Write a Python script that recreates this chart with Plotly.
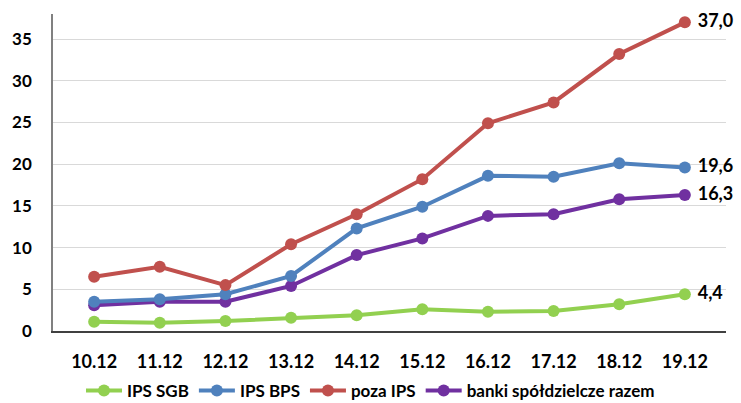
import plotly.graph_objects as go

categories = ["10.12", "11.12", "12.12", "13.12", "14.12", "15.12", "16.12", "17.12", "18.12", "19.12"]
ips_sgb = [1.1, 1.0, 1.2, 1.6, 1.9, 2.6, 2.3, 2.4, 3.2, 4.4]
ips_bps = [3.5, 3.8, 4.4, 6.6, 12.3, 14.9, 18.6, 18.5, 20.1, 19.6]
poza_ips = [6.5, 7.7, 5.5, 10.4, 14.0, 18.2, 24.9, 27.4, 33.2, 37.0]
banki_razem = [3.1, 3.5, 3.5, 5.4, 9.1, 11.1, 13.8, 14.0, 15.8, 16.3]
y_ticks = [0, 5, 10, 15, 20, 25, 30, 35]

series = [
    ("IPS SGB", ips_sgb, "#92D050"),
    ("IPS BPS", ips_bps, "#4F81BD"),
    ("poza IPS", poza_ips, "#C0504D"),
    ("banki spółdzielcze razem", banki_razem, "#7030A0"),
]

FONT = "Lato, 'Open Sans', sans-serif"

fig = go.Figure()
for name, vals, color in [series[3], series[0], series[1], series[2]]:
    labels = [""] * (len(vals) - 1) + ["\u00a0" + f"{vals[-1]:.1f}".replace(".", ",")]
    fig.add_trace(go.Scatter(
        x=categories, y=vals, name=name, mode="lines+markers+text",
        line=dict(color=color, width=4),
        marker=dict(color=color, size=12),
        text=labels, textposition="middle right",
        textfont=dict(family=FONT, size=18, color="#000000", weight="bold"),
        cliponaxis=False,
    ))

order = {s[0]: i for i, s in enumerate(series)}
for tr in fig.data:
    tr.legendrank = order[tr.name]

fig.update_layout(
    width=741, height=403,
    margin=dict(l=53, r=15, t=14, b=72, autoexpand=False),
    plot_bgcolor="white", paper_bgcolor="white",
    font=dict(family=FONT, size=16, color="#000000"),
    showlegend=True,
    legend=dict(orientation="h", x=0.5, xanchor="center", xref="container",
                y=0.03, yanchor="middle", yref="container",
                font=dict(family=FONT, size=17, color="#000000", weight="bold"),
                itemwidth=36, tracegroupgap=0),
    xaxis=dict(type="category", showgrid=False, showline=True, linecolor="#404040",
               linewidth=1.5, ticks="", tickfont=dict(family=FONT, size=18, weight="bold"),
               ticklabelstandoff=14),
    yaxis=dict(range=[0, 38], tickvals=y_ticks, showgrid=True, gridcolor="#D9D9D9",
               gridwidth=1, showline=True, linecolor="#808080", linewidth=1.5,
               zeroline=False, ticks="", tickfont=dict(family=FONT, size=17, weight="bold"),
               ticklabelstandoff=16),
)

fig.write_html("out.html")
